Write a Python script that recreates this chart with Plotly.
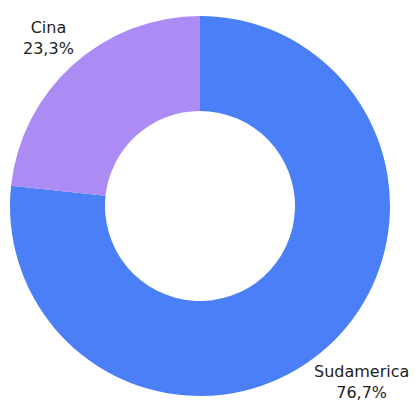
import math
import plotly.graph_objects as go

labels = ["Sudamerica", "Cina"]
values = [76.7, 23.3]
pct_text = ["76,7%", "23,3%"]
colors = ["#4A7FF7", "#AD8BF4"]

W, H = 418, 404
OFF = 8  # default page body margin in the browser
ml, mr, mt, mb = 1, 35, 8, 16
FS = 16
GAP = 9

fig = go.Figure(go.Pie(
    labels=labels, values=values, sort=False, direction="clockwise",
    rotation=0, hole=0.5, textinfo="none", hoverinfo="label+percent",
    marker=dict(colors=colors, line=dict(width=0)),
))

pw, ph = W - ml - mr, H - mt - mb
R = min(pw, ph) / 2
cx, cy = ml + pw / 2, mt + ph / 2
total = sum(values)
cum = 0
anns = []
for lab, v, p in zip(labels, values, pct_text):
    mid = (cum + v / 2) / total * 2 * math.pi
    cum += v
    dx, dy = math.sin(mid), math.cos(mid)  # clockwise from top
    half_w = 0.3 * FS * max(len(lab), len(p))
    half_h = 1.3 * FS
    r = R + GAP + abs(dx) * half_w + abs(dy) * half_h * 0.72
    px = cx + dx * r
    py = cy - dy * r
    # keep labels inside the visible window
    px = min(px, W - OFF - half_w)
    px = max(px, half_w - OFF)
    py = min(py, H - OFF - half_h - 1)
    anns.append(dict(
        x=(px - ml) / pw, y=(H - mb - py) / ph, xref="paper", yref="paper",
        text=f"{lab}<br>{p}", showarrow=False, xanchor="center", yanchor="middle",
        align="center", borderpad=0, font=dict(size=FS, color="#1e1e1e"),
    ))

fig.update_layout(
    width=W, height=H, margin=dict(l=ml, r=mr, t=mt, b=mb),
    showlegend=False, paper_bgcolor="white", plot_bgcolor="white",
    font=dict(family="DejaVu Sans", size=FS, color="#1e1e1e"),
    annotations=anns,
)
fig.write_html("out.html")
